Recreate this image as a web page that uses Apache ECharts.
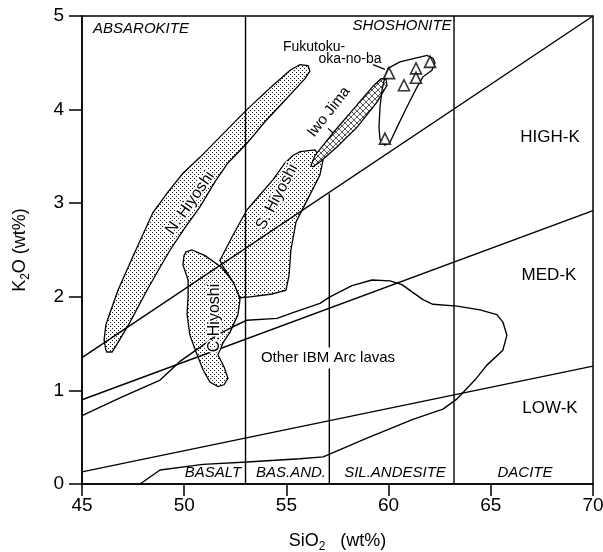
<!DOCTYPE html>
<html>
<head>
<meta charset="utf-8">
<script src="https://cdn.jsdelivr.net/npm/echarts@6/dist/echarts.min.js"></script>
<style>
  html, body { margin: 0; background: #fff; }
  #chart { width: 603px; height: 552px; }
</style>
</head>
<body>
<div id="chart"></div>
<script>
// axis ticks
var xTicks = [45, 50, 55, 60, 65, 70];
var yTicks = [0, 1, 2, 3, 4, 5];

// rock name boundaries (SiO2 wt%)
var basaltLine = [[53, 0], [53, 5]];
var basAndLine = [[57.1, 0], [57.1, 3.1]];
var andesiteLine = [[63.2, 0], [63.2, 5]];

// K-series dividing lines [SiO2, K2O]
var shoshoniteLine = [[45, 1.35], [70, 5.0]];
var highKLine = [[45, 0.9], [70, 2.92]];
var lowKLine = [[45, 0.13], [70, 1.26]];

// other IBM arc lavas field outline (open, meets the axes)
var ibmField = [
  [45.0, 0.73], [46.86, 0.92], [48.82, 1.11], [49.79, 1.31], [50.77, 1.46],
  [51.6, 1.59], [52.39, 1.68], [53.07, 1.75], [54.54, 1.77], [55.32, 1.83],
  [56.64, 1.93], [57.13, 2.0], [58.21, 2.12], [59.19, 2.18], [60.07, 2.17],
  [60.65, 2.13], [61.68, 1.97], [62.17, 1.92], [63.35, 1.9], [64.47, 1.86],
  [65.3, 1.81], [65.59, 1.73], [65.79, 1.59], [65.59, 1.43], [64.81, 1.27],
  [64.22, 1.11], [63.35, 0.91], [62.66, 0.8], [61.19, 0.69], [58.94, 0.49],
  [56.8, 0.29], [55.67, 0.27], [53.07, 0.235], [50.92, 0.21], [48.82, 0.15],
  [47.84, 0.0]
];

// Hiyoshi fields
var nHiyoshi = [
  [46.17, 1.43], [46.08, 1.54], [46.17, 1.7], [46.37, 1.83], [46.76, 2.07],
  [47.49, 2.43], [48.47, 2.9], [49.21, 3.12], [49.94, 3.32], [50.77, 3.49],
  [51.85, 3.73], [53.07, 4.0], [54.2, 4.23], [55.18, 4.42], [55.66, 4.48],
  [56.06, 4.47], [56.15, 4.41], [55.91, 4.33], [54.93, 4.1], [53.95, 3.87],
  [53.07, 3.64], [52.14, 3.43], [51.51, 3.23], [50.77, 2.96], [50.04, 2.74],
  [49.31, 2.5], [48.67, 2.26], [48.18, 2.07], [47.35, 1.73], [46.76, 1.51],
  [46.47, 1.41], [46.22, 1.41]
];
var sHiyoshi = [
  [55.32, 3.51], [55.67, 3.55], [56.4, 3.57], [56.79, 3.46], [56.64, 3.3],
  [56.01, 3.03], [55.47, 2.8], [55.22, 2.5], [55.13, 2.23], [54.98, 2.07],
  [54.3, 2.03], [53.22, 2.0], [52.73, 1.99], [52.39, 2.16], [51.85, 2.34],
  [51.75, 2.39], [52.39, 2.66], [53.07, 2.93], [53.71, 3.09], [54.34, 3.25],
  [54.93, 3.43]
];
var cHiyoshi = [
  [50.09, 2.48], [50.38, 2.5], [51.02, 2.44], [51.85, 2.31], [52.49, 2.13],
  [52.73, 1.97], [52.63, 1.81], [52.24, 1.62], [51.9, 1.51], [51.65, 1.38],
  [51.95, 1.25], [52.14, 1.13], [51.95, 1.06], [51.65, 1.04], [51.26, 1.09],
  [50.92, 1.22], [50.58, 1.41], [50.28, 1.59], [50.14, 1.81], [50.19, 2.0],
  [50.19, 2.18], [49.94, 2.34], [49.99, 2.44]
];

// Iwo Jima field
var iwoJima = [
  [56.2, 3.4], [56.4, 3.51], [57.28, 3.75], [58.26, 4.0], [59.24, 4.25],
  [59.63, 4.33], [59.87, 4.33], [59.92, 4.26], [59.43, 4.08], [58.45, 3.81],
  [57.47, 3.6], [56.64, 3.44], [56.3, 3.39]
];

// Fukutoku-oka-no-ba field and samples
var fukutokuField = [
  [59.97, 4.44], [60.55, 4.51], [61.88, 4.58], [62.17, 4.55], [62.27, 4.5],
  [62.12, 4.42], [61.68, 4.35], [61.39, 4.24], [60.9, 4.03], [60.41, 3.81],
  [60.07, 3.65], [59.82, 3.62], [59.58, 3.68], [59.53, 3.81], [59.58, 4.03],
  [59.68, 4.21], [59.82, 4.35]
];
var fukutokuSamples = [
  [60.02, 4.39], [60.75, 4.26], [61.34, 4.44], [61.34, 4.34], [62.03, 4.51], [59.82, 3.69]
];

// label leader lines
var fukutokuLeader = [[59.24, 4.48], [59.82, 4.43]];
var iwoLeader = [[57.04, 3.8], [57.28, 3.75]];

var FONT = "'Liberation Sans', Arial, sans-serif";

function makeDots() {
  var c = document.createElement('canvas');
  c.width = 4; c.height = 4;
  var g = c.getContext('2d');
  g.fillStyle = '#fff';
  g.fillRect(0, 0, 4, 4);
  g.fillStyle = '#111';
  g.fillRect(0, 0, 1, 1);
  g.fillRect(2, 2, 1, 1);
  return { image: c, repeat: 'repeat' };
}

function makeHatch() {
  var c = document.createElement('canvas');
  c.width = 6; c.height = 6;
  var g = c.getContext('2d');
  g.fillStyle = '#fff';
  g.fillRect(0, 0, 6, 6);
  g.strokeStyle = '#444';
  g.lineWidth = 0.9;
  g.beginPath();
  g.moveTo(0, 0); g.lineTo(6, 6);
  g.moveTo(6, 0); g.lineTo(0, 6);
  g.stroke();
  return { image: c, repeat: 'repeat' };
}

function field(pts, fill) {
  return {
    type: 'custom',
    data: pts,
    z: 2,
    silent: true,
    renderItem: function (params, api) {
      if (params.dataIndex !== 0) return null;
      return {
        type: 'polygon',
        shape: { points: pts.map(function (p) { return api.coord(p); }) },
        style: { fill: fill, stroke: '#000', lineWidth: 1.3 }
      };
    }
  };
}

function line(pts, w) {
  return {
    type: 'line',
    data: pts,
    symbol: 'none',
    silent: true,
    z: 4,
    lineStyle: { color: '#000', width: w || 1.4 }
  };
}

function label(x, y, text, font, rot, halo) {
  return {
    type: 'text',
    x: x, y: y,
    z: 100,
    rotation: (rot || 0) * Math.PI / 180,
    style: {
      text: text,
      font: font,
      fill: '#000',
      align: 'center',
      verticalAlign: 'middle',
      stroke: halo ? '#fff' : null,
      lineWidth: halo ? 3 : 0
    }
  };
}

var chart = echarts.init(document.getElementById('chart'));
var dots = makeDots();

var nameRich = {
  a: { fontSize: 18, fontFamily: FONT, color: '#000', lineHeight: 24, verticalAlign: 'middle' },
  b: { fontSize: 12, fontFamily: FONT, color: '#000', lineHeight: 24, verticalAlign: 'bottom' }
};

var option = {
  animation: false,
  grid: {
    left: 82, right: 10, top: 16, bottom: 68,
    containLabel: false,
    outerBoundsMode: 'none',
    show: true, borderColor: '#000', borderWidth: 1.5
  },
  xAxis: {
    type: 'value',
    min: xTicks[0], max: xTicks[xTicks.length - 1], interval: 5,
    axisLine: { onZero: false, lineStyle: { color: '#000', width: 1.5 } },
    axisTick: { length: 12, lineStyle: { color: '#000', width: 1.5 } },
    axisLabel: { color: '#000', fontSize: 19, fontFamily: FONT, margin: 12 },
    splitLine: { show: false },
    name: '{a|SiO}{b|2}{a|   (wt%)}',
    nameLocation: 'middle',
    nameGap: 45,
    nameTextStyle: { rich: nameRich }
  },
  yAxis: {
    type: 'value',
    min: yTicks[0], max: yTicks[yTicks.length - 1], interval: 1,
    axisLine: { onZero: false, lineStyle: { color: '#000', width: 1.5 } },
    axisTick: { length: 13, lineStyle: { color: '#000', width: 1.5 } },
    axisLabel: { color: '#000', fontSize: 19, fontFamily: FONT, margin: 18 },
    splitLine: { show: false },
    name: '{a|K}{b|2}{a|O (wt%)}',
    nameLocation: 'middle',
    nameGap: 50,
    nameTextStyle: { rich: nameRich }
  },
  series: [
    field(nHiyoshi, dots),
    field(cHiyoshi, dots),
    field(sHiyoshi, dots),
    field(iwoJima, makeHatch()),
    field(fukutokuField, 'none'),
    line(ibmField),
    line(shoshoniteLine),
    line(highKLine),
    line(lowKLine),
    line(basaltLine),
    line(basAndLine),
    line(andesiteLine),
    line(fukutokuLeader, 1.2),
    line(iwoLeader, 1.2),
    {
      type: 'scatter',
      data: fukutokuSamples,
      symbol: 'triangle',
      symbolSize: 11,
      z: 5,
      silent: true,
      itemStyle: { color: '#fff', borderColor: '#000', borderWidth: 1.6 }
    }
  ],
  graphic: [
    label(141, 29, 'ABSAROKITE', 'italic 15px ' + FONT),
    label(402, 26, 'SHOSHONITE', 'italic 15px ' + FONT),
    label(550, 137, 'HIGH-K', '17px ' + FONT),
    label(549, 275, 'MED-K', '17px ' + FONT),
    label(550, 408, 'LOW-K', '17px ' + FONT),
    label(213, 473, 'BASALT', 'italic 15px ' + FONT),
    label(291, 473, 'BAS.AND.', 'italic 15px ' + FONT),
    label(395, 473, 'SIL.ANDESITE', 'italic 15px ' + FONT),
    label(525, 473, 'DACITE', 'italic 15px ' + FONT),
    label(314, 47, 'Fukutoku-', '14px ' + FONT),
    label(350, 59, 'oka-no-ba', '14px ' + FONT),
    label(329, 112, 'Iwo Jima', '15px ' + FONT, 52, true),
    label(190, 203, 'N. Hiyoshi', '16px ' + FONT, 55, true),
    label(277, 197, 'S. Hiyoshi', '16px ' + FONT, 62, true),
    label(215, 318, 'C.Hiyoshi', '16px ' + FONT, 90, true),
    {
      type: 'text', x: 328, y: 358, z: 100,
      style: {
        text: 'Other IBM Arc lavas', font: '15px ' + FONT, fill: '#000',
        align: 'center', verticalAlign: 'middle',
        backgroundColor: '#fff', padding: [3, 2]
      }
    }
  ]
};

chart.setOption(option);
</script>
</body>
</html>
